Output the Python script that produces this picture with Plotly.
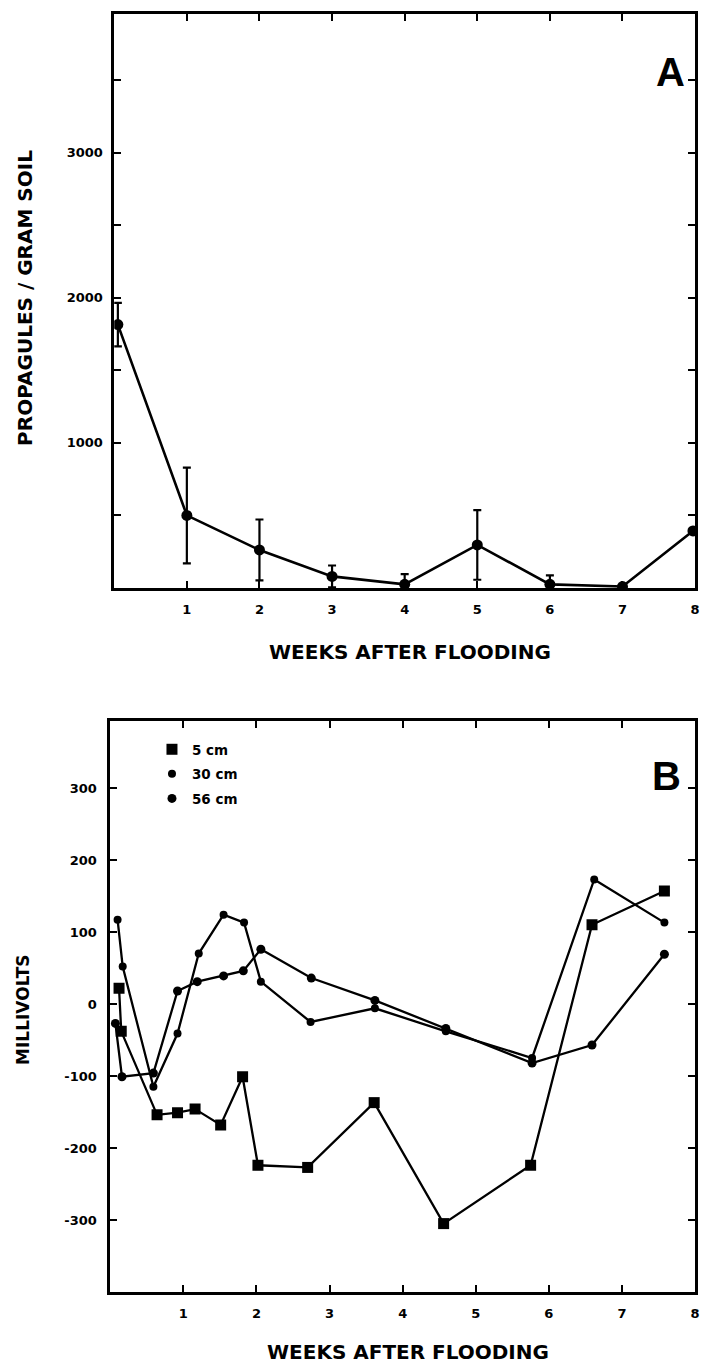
import plotly.graph_objects as go

# compensate for the page offset so reference pixel positions line up
OFF_X, OFF_Y = 5, 8
W, H = 711 - OFF_X, 1368 - OFF_Y


def px_x(p):
    return (p - OFF_X) / W


def px_y(p):
    return 1 - (p - OFF_Y) / H


# ---------- Panel A data ----------
weeks_a = [0.05, 1, 2, 3, 4, 5, 6, 7, 7.97]
propagules = [1815, 500, 262, 80, 25, 297, 25, 10, 393]
propagules_err = [150, 330, 210, 75, 70, 240, 62, 0, 0]

# ---------- Panel B data ----------
weeks_5cm = [0.12, 0.15, 0.64, 0.92, 1.16, 1.51, 1.81, 2.02, 2.70, 3.61, 4.56, 5.75, 6.59, 7.58]
mv_5cm = [22, -38, -154, -151, -146, -168, -101, -224, -227, -137, -305, -224, 110, 157]

weeks_30cm = [0.10, 0.17, 0.59, 0.92, 1.21, 1.55, 1.83, 2.06, 2.74, 3.62, 4.59, 5.77, 6.62, 7.58]
mv_30cm = [117, 52, -115, -41, 70, 124, 113, 31, -25, -6, -38, -75, 173, 113]

weeks_56cm = [0.07, 0.16, 0.59, 0.92, 1.19, 1.55, 1.82, 2.06, 2.75, 3.62, 4.59, 5.77, 6.59, 7.58]
mv_56cm = [-27, -101, -96, 18, 31, 39, 46, 76, 36, 5, -34, -82, -57, 69]

x_ticks = [1, 2, 3, 4, 5, 6, 7, 8]
x_ticktext = ["1", "2", "3", "4", "5", "6", "7", "8"]
a_yticks = [500, 1000, 1500, 2000, 2500, 3000, 3500]
a_yticktext = ["", "1000", "", "2000", "", "3000", ""]
b_yticks = [-300, -200, -100, 0, 100, 200, 300]
b_yticktext = ["-300", "-200", "-100", "0", "100", "200", "300"]

FONT = "DejaVu Sans"
tickfont = dict(family=FONT, size=13, color="black", weight="bold")

fig = go.Figure()

fig.add_trace(go.Scatter(
    x=weeks_a, y=propagules, mode="lines+markers",
    line=dict(color="black", width=2.6),
    marker=dict(symbol="circle", size=11, color="black"),
    error_y=dict(type="data", array=propagules_err, visible=True,
                 color="black", thickness=2.2, width=4),
    xaxis="x", yaxis="y", showlegend=False,
))

series = [
    ("5 cm", weeks_5cm, mv_5cm, "square", 11),
    ("30 cm", weeks_30cm, mv_30cm, "circle", 8),
    ("56 cm", weeks_56cm, mv_56cm, "circle", 9),
]
for name, xs, ys, sym, sz in series:
    fig.add_trace(go.Scatter(
        x=xs, y=ys, mode="lines+markers", name=name,
        line=dict(color="black", width=2.3),
        marker=dict(symbol=sym, size=sz, color="black"),
        xaxis="x2", yaxis="y2", showlegend=False,
    ))
for i, (name, xs, ys, sym, sz) in enumerate(series):
    fig.add_trace(go.Scatter(
        x=[None], y=[None], mode="markers", name=name,
        marker=dict(symbol=sym, size=sz, color="black"),
        xaxis="x2", yaxis="y2", showlegend=True, legendgroup=f"g{i}",
    ))

axis_common = dict(
    showline=True, linecolor="black", linewidth=2.5, mirror="allticks",
    ticks="inside", ticklen=7, tickwidth=2, tickcolor="black",
    showgrid=False, zeroline=False, tickfont=tickfont,
)

fig.update_layout(
    width=W, height=H,
    margin=dict(l=0, r=0, t=0, b=0),
    paper_bgcolor="white", plot_bgcolor="white",
    xaxis=dict(domain=[px_x(112), px_x(697)], range=[0, 8], anchor="y",
               tickmode="array", tickvals=x_ticks, ticktext=x_ticktext,
               ticklabelstandoff=8, **axis_common),
    yaxis=dict(domain=[px_y(588), px_y(14)], range=[0, 3955], anchor="x",
               tickmode="array", tickvals=a_yticks, ticktext=a_yticktext,
               ticklabelstandoff=6, **axis_common),
    xaxis2=dict(domain=[px_x(108), px_x(697)], range=[0, 8], anchor="y2",
                tickmode="array", tickvals=x_ticks, ticktext=x_ticktext,
                ticklabelstandoff=8, **axis_common),
    yaxis2=dict(domain=[px_y(1292), px_y(721)], range=[-400, 393], anchor="x2",
                tickmode="array", tickvals=b_yticks, ticktext=b_yticktext,
                ticklabelstandoff=8, **axis_common),
    legend=dict(x=px_x(150), y=px_y(734), xanchor="left", yanchor="top",
                bgcolor="rgba(0,0,0,0)", borderwidth=0,
                font=dict(family=FONT, size=13.5, color="black", weight="bold"),
                tracegroupgap=4, itemwidth=30),
)

title_font = dict(family=FONT, size=20, color="black", weight="bold")
annots = [
    dict(text="WEEKS AFTER FLOODING", x=px_x(410), y=px_y(652), font=title_font),
    dict(text="PROPAGULES / GRAM SOIL", x=px_x(22), y=px_y(298), font=title_font, textangle=-90),
    dict(text="MILLIVOLTS", x=px_x(20), y=px_y(1010),
         font=dict(family=FONT, size=17, color="black", weight="bold"), textangle=-90),
    dict(text="WEEKS AFTER FLOODING", x=px_x(408), y=px_y(1352), font=title_font),
    dict(text="A", x=px_x(672), y=px_y(72),
         font=dict(family="Liberation Sans", size=40, color="black", weight="bold")),
    dict(text="B", x=px_x(668), y=px_y(776),
         font=dict(family="Liberation Sans", size=40, color="black", weight="bold")),
]
for a in annots:
    fig.add_annotation(xref="paper", yref="paper", xanchor="center", yanchor="middle",
                       showarrow=False, **a)

fig.write_html("out.html")
